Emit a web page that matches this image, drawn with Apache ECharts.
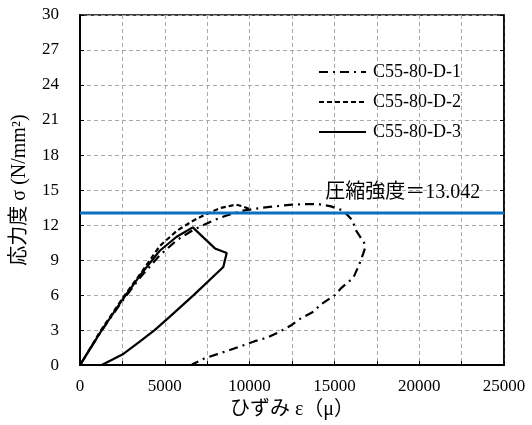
<!DOCTYPE html>
<html>
<head>
<meta charset="utf-8">
<script src="https://cdn.jsdelivr.net/npm/echarts@6/dist/echarts.min.js"></script>
<style>
  html, body { margin: 0; padding: 0; background: #fff; }
  #chart { width: 532px; height: 425px; }
</style>
</head>
<body>
<div id="chart"></div>
<script>
// Stress–strain loops of specimens C55-80-D-1..3 (strain in μ, stress in N/mm²)
const seriesNames = ['C55-80-D-1', 'C55-80-D-2', 'C55-80-D-3'];

const strainD1 = [0, 1200, 2500, 3600, 4700, 5700, 6700, 7860, 8600, 9630, 10800, 11500, 12500, 13300, 14050, 14800, 15520, 16040, 16310, 16750, 16800, 16700, 16430, 16110, 15400, 15030, 14200, 13760, 12900, 12480, 11790, 11040, 10300, 9600, 8840, 8100, 7300, 6600];
const stressD1 = [0, 2.8, 5.5, 7.6, 9.4, 10.7, 11.6, 12.4, 12.8, 13.24, 13.5, 13.6, 13.75, 13.8, 13.8, 13.6, 13.24, 12.45, 11.45, 10.5, 10.0, 9.55, 8.5, 7.47, 6.6, 6.0, 5.2, 4.57, 3.9, 3.44, 2.87, 2.36, 2.05, 1.68, 1.3, 0.94, 0.55, 0.05];

const strainD2 = [0, 1200, 2500, 3600, 4700, 5700, 6700, 7600, 8300, 9200, 9600, 10100];
const stressD2 = [0, 2.9, 5.7, 7.9, 10.2, 11.5, 12.4, 13.04, 13.47, 13.75, 13.6, 13.3];

const strainD3 = [0, 1200, 2500, 3600, 4700, 5700, 6650, 7300, 7960, 8650, 8450, 8350, 6700, 5300, 4400, 3500, 2500, 1280];
const stressD3 = [0, 2.8, 5.6, 7.8, 9.8, 11.0, 11.8, 10.9, 10.0, 9.6, 8.4, 8.3, 6.0, 4.15, 3.0, 2.0, 0.9, 0];

const compressiveStrength = 13.042;

const xTicks = [0, 5000, 10000, 15000, 20000, 25000];
const yTicks = [0, 3, 6, 9, 12, 15, 18, 21, 24, 27, 30];

function pairs(xs, ys) { return xs.map((x, i) => [x, ys[i]]); }

const serif = "'Liberation Serif', 'DejaVu Serif', 'Noto Sans CJK JP', serif";
const gridLine = { show: true, lineStyle: { color: '#a8a8a8', type: [4, 3], width: 1 } };

const chart = echarts.init(document.getElementById('chart'), null, { renderer: 'canvas' });

const lineBase = { type: 'line', symbol: 'none', showSymbol: false, smooth: false, z: 3 };

chart.setOption({
  animation: false,
  backgroundColor: '#fff',
  textStyle: { fontFamily: serif, color: '#000' },
  grid: { left: 80, right: 28, top: 15, bottom: 58, show: true, borderColor: '#000', borderWidth: 1.5, backgroundColor: 'transparent' },
  legend: {
    data: seriesNames,
    orient: 'vertical',
    left: 318,
    top: 63,
    padding: 0,
    itemWidth: 47,
    itemHeight: 10,
    itemGap: 12,
    itemStyle: { opacity: 0 },
    textStyle: { fontFamily: serif, fontSize: 18, color: '#000', padding: [0, 0, 0, 2] }
  },
  xAxis: [{
    type: 'value',
    min: xTicks[0],
    max: xTicks[xTicks.length - 1],
    interval: 2500,
    name: 'ひずみ ε（μ）',
    nameLocation: 'middle',
    nameGap: 33,
    nameTextStyle: { fontFamily: serif, fontSize: 20, color: '#000' },
    axisLine: { show: true, lineStyle: { color: '#000', width: 2 } },
    axisTick: { show: true, inside: true, length: 4, lineStyle: { color: '#000' } },
    axisLabel: {
      margin: 13, fontSize: 17, fontFamily: serif, color: '#000',
      formatter: v => (xTicks.includes(v) ? String(v) : '')
    },
    splitLine: gridLine
  }],
  yAxis: [{
    type: 'value',
    min: yTicks[0],
    max: yTicks[yTicks.length - 1],
    interval: 3,
    name: '応力度 σ (N/mm²)',
    nameLocation: 'middle',
    nameGap: 50,
    nameTextStyle: { fontFamily: serif, fontSize: 20, color: '#000' },
    axisLine: { show: true, lineStyle: { color: '#000', width: 2 } },
    axisTick: { show: true, inside: true, length: 4, lineStyle: { color: '#000' } },
    axisLabel: { margin: 21, fontSize: 17, fontFamily: serif, color: '#000',
      formatter: v => (yTicks.includes(v) ? String(v) : '') },
    splitLine: gridLine
  }, {
    type: 'value',
    position: 'right',
    min: yTicks[0],
    max: yTicks[yTicks.length - 1],
    interval: 3,
    axisLine: { show: true, lineStyle: { color: '#000', width: 1.5 } },
    axisTick: { show: true, inside: true, length: 4, lineStyle: { color: '#000' } },
    axisLabel: { show: false },
    splitLine: { show: false }
  }],
  series: [
    Object.assign({}, lineBase, {
      name: seriesNames[0],
      data: pairs(strainD1, stressD1),
      lineStyle: { color: '#000', width: 2.2, type: [9, 5, 2, 5] },
      itemStyle: { color: '#000' }
    }),
    Object.assign({}, lineBase, {
      name: seriesNames[1],
      data: pairs(strainD2, stressD2),
      lineStyle: { color: '#000', width: 2.2, type: [5, 3] },
      itemStyle: { color: '#000' }
    }),
    Object.assign({}, lineBase, {
      name: seriesNames[2],
      data: pairs(strainD3, stressD3),
      lineStyle: { color: '#000', width: 2.2, type: 'solid' },
      itemStyle: { color: '#000' }
    }),
    Object.assign({}, lineBase, {
      name: 'strength',
      data: [[xTicks[0], compressiveStrength], [xTicks[xTicks.length - 1], compressiveStrength]],
      lineStyle: { color: '#0a70c0', width: 3 },
      itemStyle: { color: '#0a70c0' },
      z: 4,
      markPoint: {
        symbol: 'circle',
        symbolSize: 0,
        data: [{ coord: [23600, compressiveStrength] }],
        label: {
          show: true,
          position: 'left',
          distance: 0,
          offset: [0, -20],
          formatter: () => '圧縮強度＝' + compressiveStrength,
          fontFamily: serif,
          fontSize: 20,
          color: '#000'
        }
      }
    })
  ]
});
</script>
</body>
</html>
